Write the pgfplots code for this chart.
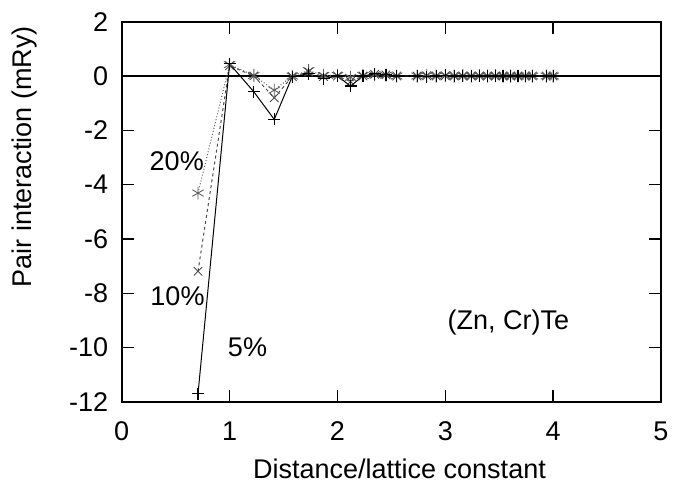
\documentclass[border=0pt]{standalone}
\usepackage{pgfplots}
\pgfplotsset{compat=1.18}
\usepackage{fontspec}
\setmainfont{Liberation Sans}
\begin{document}
\begin{tikzpicture}[font=\fontsize{27}{32}\selectfont]
\begin{axis}[
  name=ax,
  scale only axis, width=539pt, height=380pt,
  xmin=0, xmax=5, ymin=-12, ymax=2,
  xtick={0,1,2,3,4,5}, ytick={-12,-10,-8,-6,-4,-2,0,2},
  tick align=inside, major tick length=12pt,
  axis line style={line width=1.6pt}, tick style={line width=1.4pt, black},
  /pgf/number format/assume math mode=true,
  ticklabel style={font=\fontsize{27}{32}\selectfont},
  xticklabel style={anchor=base, inner sep=0pt, yshift=-38.5pt},
  yticklabel style={anchor=east, inner sep=0pt, xshift=-13.5pt},
  xlabel={Distance/lattice constant},
  ylabel={Pair interaction (mRy)},
  xlabel style={at={([yshift=-77pt]axis description cs:0.515,0)}, anchor=base, inner sep=0pt},
  ylabel style={at={([xshift=-90pt]axis description cs:0,0.645)}, anchor=base, inner sep=0pt},
  clip=false,
]
\addplot[black, line width=1.2pt, forget plot] coordinates {(0,0) (5,0)};
% 20% dotted
\addplot[gray!75!black, dotted, line width=1pt, mark=asterisk, mark size=6.5pt, mark options={solid, line width=0.9pt}] coordinates {
(0.7071,-4.31) (1.0,0.42) (1.2247,0.02) (1.4142,-0.52) (1.5811,0.0) (1.7321,0.20) (1.8708,0.02)
(2.0,0.02) (2.1213,-0.05) (2.2361,0.02) (2.3452,0.05) (2.4495,0.03) (2.5495,0.0)
(2.7386,0.0) (2.8284,0.02) (2.9155,0.0) (3.0,0.02) (3.0822,0.0) (3.1623,0.01) (3.2404,0.0)
(3.3166,0.01) (3.3912,0.0) (3.4641,0.01) (3.5355,0.0) (3.6056,0.0) (3.6742,0.0) (3.7417,0.0)
(3.8079,0.0) (3.9370,0.0) (4.0,0.0)};
% 10% dashed
\addplot[gray!60!black, dashed, line width=1pt, mark=x, mark size=6pt, mark options={solid, line width=0.9pt}] coordinates {
(0.7071,-7.19) (1.0,0.38) (1.2247,0.0) (1.4142,-0.80) (1.5811,-0.02) (1.7321,0.15) (1.8708,-0.02)
(2.0,0.0) (2.1213,-0.20) (2.2361,0.0) (2.3452,0.06) (2.4495,0.04) (2.5495,0.0)
(2.7386,0.0) (2.8284,0.01) (2.9155,0.0) (3.0,0.01) (3.0822,0.0) (3.1623,0.0) (3.2404,0.0)
(3.3166,0.0) (3.3912,0.0) (3.4641,0.0) (3.5355,0.0) (3.6056,0.0) (3.6742,0.0) (3.7417,0.0)
(3.8079,0.0) (3.9370,0.0) (4.0,0.0)};
% 5% solid
\addplot[black, line width=1pt, mark=+, mark size=6pt, mark options={line width=1.2pt}] coordinates {
(0.7071,-11.70) (1.0,0.45) (1.2247,-0.58) (1.4142,-1.60) (1.5811,-0.02) (1.7321,0.08) (1.8708,-0.10)
(2.0,0.0) (2.1213,-0.37) (2.2361,0.0) (2.3452,0.08) (2.4495,0.05) (2.5495,0.0)
(2.7386,0.0) (2.8284,-0.03) (2.9155,0.0) (3.0,0.02) (3.0822,0.0) (3.1623,0.0) (3.2404,0.0)
(3.3166,0.0) (3.3912,0.0) (3.4641,0.0) (3.5355,0.0) (3.6056,0.0) (3.6742,0.0) (3.7417,0.0)
(3.8079,0.0) (3.9370,0.0) (4.0,0.0)};
\node at (axis cs:0.51,-3.12) {20\%};
\node at (axis cs:0.517,-8.09) {10\%};
\node at (axis cs:1.166,-10.0) {5\%};
\node at (axis cs:3.584,-9.07) {(Zn, Cr)Te};
\end{axis}
\pgfresetboundingbox
\path ([shift={(-121.7pt,-82.5pt)}]ax.south west) rectangle ([shift={(12pt,21.7pt)}]ax.north east);
\end{tikzpicture}
\end{document}
